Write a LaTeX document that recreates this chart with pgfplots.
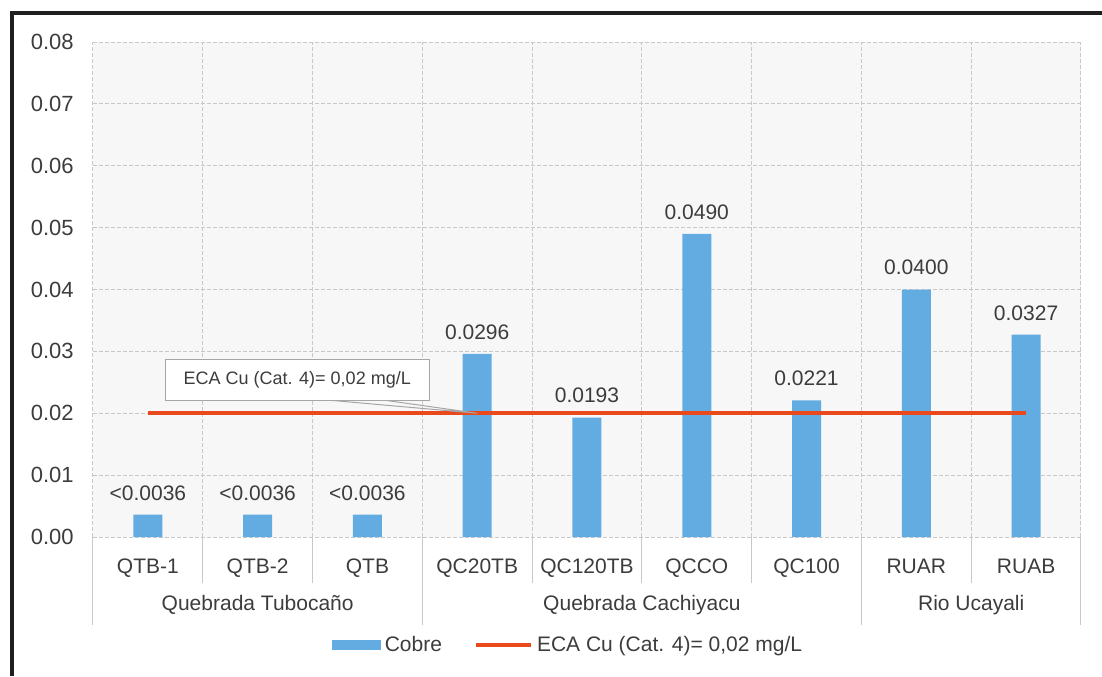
\documentclass[border=0pt]{standalone}
\usepackage{pgfplots}
\pgfplotsset{compat=1.18}
\usepackage{pgfplotstable}
\usepackage{fontspec}
\setmainfont{Liberation Sans}
\definecolor{barblue}{RGB}{98,172,226}
\definecolor{ecared}{RGB}{232,74,30}
\definecolor{gridgray}{RGB}{200,200,200}
\definecolor{txt}{RGB}{60,60,60}

\pgfplotstableread{
x y label
0 0.0036 {<0.0036}
1 0.0036 {<0.0036}
2 0.0036 {<0.0036}
3 0.0296 0.0296
4 0.0193 0.0193
5 0.0490 0.0490
6 0.0221 0.0221
7 0.0400 0.0400
8 0.0327 0.0327
}\cobre

\begin{document}
\fontsize{10.5}{12.6}\selectfont
\begin{tikzpicture}
\useasboundingbox (0pt,0pt) rectangle (551pt,-338pt);
\begin{axis}[
  at={(46.5pt,-268.5pt)}, anchor=south west,
  scale only axis, width=494pt, height=247.5pt,
  xmin=-0.5, xmax=8.5, ymin=0, ymax=0.08,
  ytick={0,0.01,0.02,0.03,0.04,0.05,0.06,0.07,0.08},
  scaled y ticks=false,
  /pgf/number format/assume math mode=true,
  yticklabel style={/pgf/number format/fixed, /pgf/number format/fixed zerofill, /pgf/number format/precision=2, text=txt, xshift=-6pt, font=\fontsize{11}{13}\selectfont},
  xtick={0,...,8},
  xticklabels={QTB-1,QTB-2,QTB,QC20TB,QC120TB,QCCO,QC100,RUAR,RUAB},
  xticklabel style={anchor=base, yshift=-18pt, text=txt},
  minor xtick={-0.5,0.5,1.5,2.5,3.5,4.5,5.5,6.5,7.5,8.5},
  major tick length=0, minor tick length=0,
  axis line style={draw=none},
  ymajorgrids, xminorgrids,
  grid style={gridgray, dash pattern=on 2pt off 1pt, line width=0.5pt},
  minor grid style={gridgray, dash pattern=on 2pt off 1pt, line width=0.5pt},
  axis background/.style={fill=black!3},
  clip=false,
  legend style={at={(0.5,0)}, anchor=center, yshift=-54pt, xshift=-9pt, draw=none, fill=none,
    legend columns=2, text=txt, /tikz/every even column/.append style={column sep=14pt}},
  legend cell align=left,
]
\addplot[ybar, bar width=14.5pt, fill=barblue, draw=none,
  nodes near coords, point meta=explicit symbolic,
  every node near coord/.append style={text=txt, yshift=3.5pt},
  legend image code/.code={\fill[barblue] (0pt,-2.5pt) rectangle (24.5pt,2.5pt);}]
  table[x=x, y=y, meta=label]{\cobre};
\addlegendentry{Cobre}
\addplot[ecared, line width=2pt, mark=none,
  legend image code/.code={\draw[ecared, line width=2pt] (0pt,0pt) -- (27.5pt,0pt);}]
  coordinates {(0,0.02) (8,0.02)};
\addlegendentry{ECA Cu (Cat. 4)= 0,02 mg/L}

% callout
\draw[gray!70, line width=0.5pt] (axis cs:1.66,0.0221) -- (axis cs:3,0.02) -- (axis cs:2.16,0.0221);
\node[draw=gray!70, fill=white, line width=0.5pt, minimum width=132pt, minimum height=20.5pt,
  font=\fontsize{9}{11}\selectfont, text=txt] at (axis cs:1.36,0.0254) {ECA Cu (Cat. 4)= 0,02 mg/L};

% separators below the axis
\pgfplotsinvokeforeach{0.5,1.5,3.5,4.5,5.5,7.5}{
  \draw[gridgray, line width=0.5pt] (axis cs:#1,0) -- ++(0pt,-23pt);
}
\pgfplotsinvokeforeach{-0.5,2.5,6.5,8.5}{
  \draw[gridgray, line width=0.5pt] (axis cs:#1,0) -- ++(0pt,-44pt);
}
\node[text=txt, yshift=-34pt] at (axis cs:1,0) {Quebrada Tubocaño};
\node[text=txt, yshift=-34pt] at (axis cs:4.5,0) {Quebrada Cachiyacu};
\node[text=txt, yshift=-34pt] at (axis cs:7.5,0) {Rio Ucayali};
\end{axis}
\draw[line width=2pt, black!88] (6pt,-338pt) -- (6pt,-6.5pt) -- (551pt,-6.5pt);
\end{tikzpicture}
\end{document}
